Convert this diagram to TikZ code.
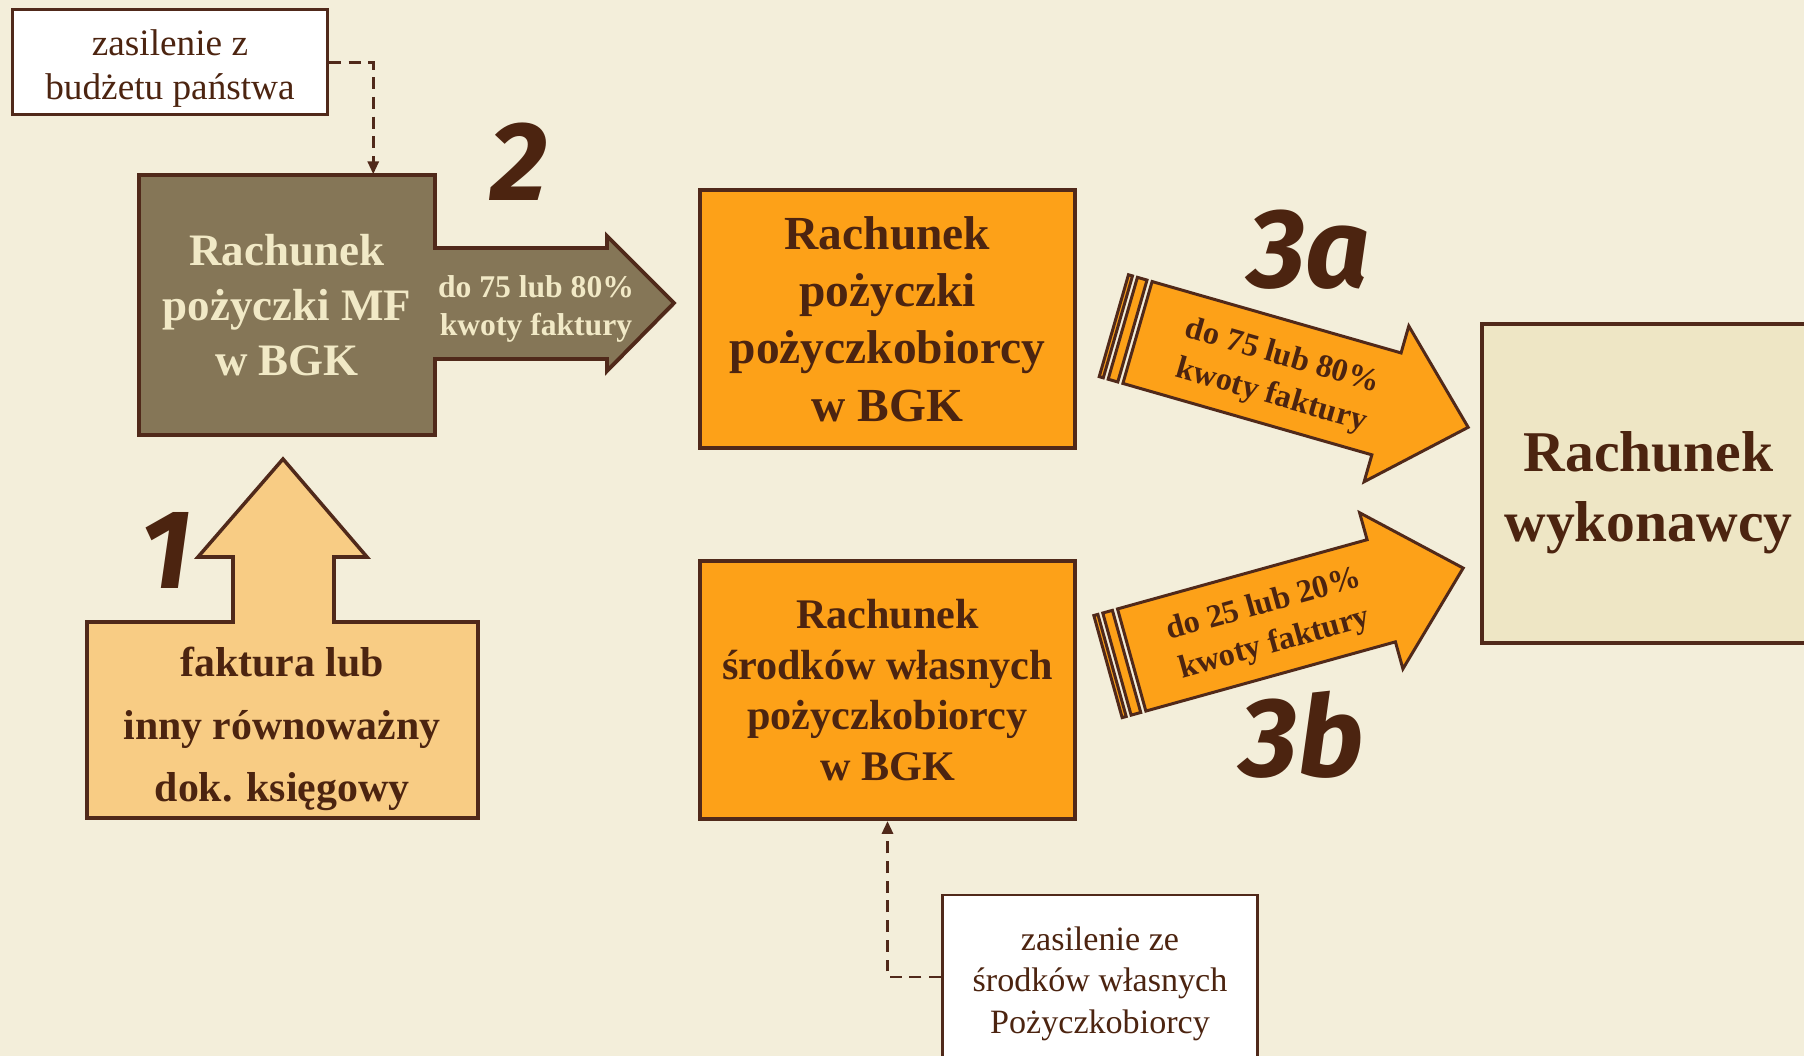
\documentclass[tikz,border=0pt]{standalone}
\usepackage{fontspec}
\setmainfont{Liberation Serif}
\newfontfamily\handfont{Fira Sans}
\usetikzlibrary{arrows.meta,calc}

\definecolor{paper}{HTML}{F3EEDA}
\definecolor{rim}{HTML}{50291A}
\definecolor{ink}{HTML}{4C2410}
\definecolor{mfbrown}{HTML}{857657}
\definecolor{mftext}{HTML}{F1E9C6}
\definecolor{loanorange}{HTML}{FDA118}
\definecolor{invoiceorange}{HTML}{F8CC84}
\definecolor{payee}{HTML}{EEE6C5}

\tikzstyle{outline}=[draw=rim, line width=1.1pt, line join=miter]
\tikzstyle{account}=[outline, rectangle, align=center, text=ink, inner sep=0pt]
\tikzstyle{note}=[draw=rim, line width=0.85pt, fill=white, rectangle, align=center, text=ink, inner sep=0pt]
\tikzstyle{feed edge}=[draw=rim, line width=0.85pt, dash pattern=on 3.4pt off 2.2pt, -{Triangle[length=1.3mm, width=1.1mm]}]
\tikzstyle{band}=[draw=rim, line width=0.85pt, fill=loanorange]
\tikzstyle{band text}=[text=ink, align=center, transform shape, font=\bfseries\fontsize{9.2}{11.5}\selectfont]
\tikzstyle{step mark}=[text=ink, font=\handfont\bfseries\itshape\fontsize{32}{32}\selectfont]

\begin{document}
\begin{tikzpicture}[x=0.1mm, y=-0.1mm]
  \useasboundingbox (0,0) rectangle (1804,1056);
  \clip (0,0) rectangle (1804,1056);
  \fill[paper] (0,0) rectangle (1804,1056);

  % step 1
  \draw[outline, fill=invoiceorange, line width=1pt] (87,622) -- (233,622) -- (233,557) -- (198,557) -- (283,459) -- (367,557) -- (334,557) -- (334,622) -- (478,622) -- (478,818) -- (87,818) -- cycle;
  \node[text=ink, align=center, font=\bfseries\fontsize{11.9}{17.7}\selectfont] (invoice) at (282,729) {faktura lub\\inny równoważny\\dok. księgowy};
  \node[step mark] (s1) at (166,550) {1};

  % step 2
  \draw[outline, fill=mfbrown] (139,175) -- (435,175) -- (435,248) -- (607,248) -- (607,236) -- (674,303) -- (607,371) -- (607,359) -- (435,359) -- (435,435) -- (139,435) -- cycle;
  \node[align=center, text=mftext, inner sep=0pt, minimum width=29.6mm, minimum height=26mm, font=\bfseries\fontsize{12.8}{15.6}\selectfont] (mf) at (287,305) {Rachunek\\pożyczki MF\\w BGK};
  \node[text=mftext, align=center, font=\bfseries\fontsize{9}{11}\selectfont] (mfout) at (536,309) {do 75 lub 80\%\\kwoty faktury};
  \node[step mark] (s2) at (519,162) {2};

  \node[note, minimum width=31.5mm, minimum height=10.5mm, text height=23.2pt, font=\fontsize{10.6}{12.5}\selectfont] (budget) at (170,62.5) {zasilenie z\\budżetu państwa};
  \draw[feed edge] (budget.east) -| ($(mf.north west)!0.79!(mf.north east)$);

  % accounts in BGK
  \node[account, fill=loanorange, minimum width=37.5mm, minimum height=25.8mm, font=\bfseries\fontsize{13.5}{16.3}\selectfont] (loan) at (887.5,319) {Rachunek\\pożyczki\\pożyczkobiorcy\\w BGK};
  \node[account, fill=loanorange, minimum width=37.5mm, minimum height=25.8mm, font=\bfseries\fontsize{12}{14.4}\selectfont] (own) at (887.5,690) {Rachunek\\środków własnych\\pożyczkobiorcy\\w BGK};
  \node[account, fill=payee, minimum width=33.3mm, minimum height=31.9mm, text height=36.5pt, font=\bfseries\fontsize{16.4}{20}\selectfont] (payee) at (1648.5,483.5) {Rachunek\\wykonawcy};

  \node[note, minimum width=31.5mm, minimum height=16.4mm, text height=34.2pt, font=\fontsize{9.7}{11.8}\selectfont] (ownfunds) at (1100,977) {zasilenie ze\\środków własnych\\Pożyczkobiorcy};
  \draw[feed edge] (ownfunds.west) -| (own.south);

  % step 3a
  \begin{scope}[shift={(1137.5,332.5)}, rotate=-16]
    \draw[band] (0,-53) -- (259,-53) -- (259,-81) -- (344,0) -- (259,81) -- (259,53) -- (0,53) -- cycle;
    \draw[band] (-15.3,-53) rectangle (-5.3,53);
    \draw[band] (-24.6,-53) rectangle (-20.4,53);
    \node[band text] (pay75) at (146,4) {do 75 lub 80\%\\kwoty faktury};
  \end{scope}
  \node[step mark] (s3a) at (1309,250) {3a};

  % step 3b
  \begin{scope}[shift={(1131.7,660)}, rotate=15.5]
    \draw[band] (0,-53) -- (259,-53) -- (259,-81) -- (344,0) -- (259,81) -- (259,53) -- (0,53) -- cycle;
    \draw[band] (-15.3,-53) rectangle (-5.3,53);
    \draw[band] (-24.6,-53) rectangle (-20.4,53);
    \node[band text] (pay25) at (142,3) {do 25 lub 20\%\\kwoty faktury};
  \end{scope}
  \node[step mark] (s3b) at (1302,735) {3b};
\end{tikzpicture}
\end{document}
